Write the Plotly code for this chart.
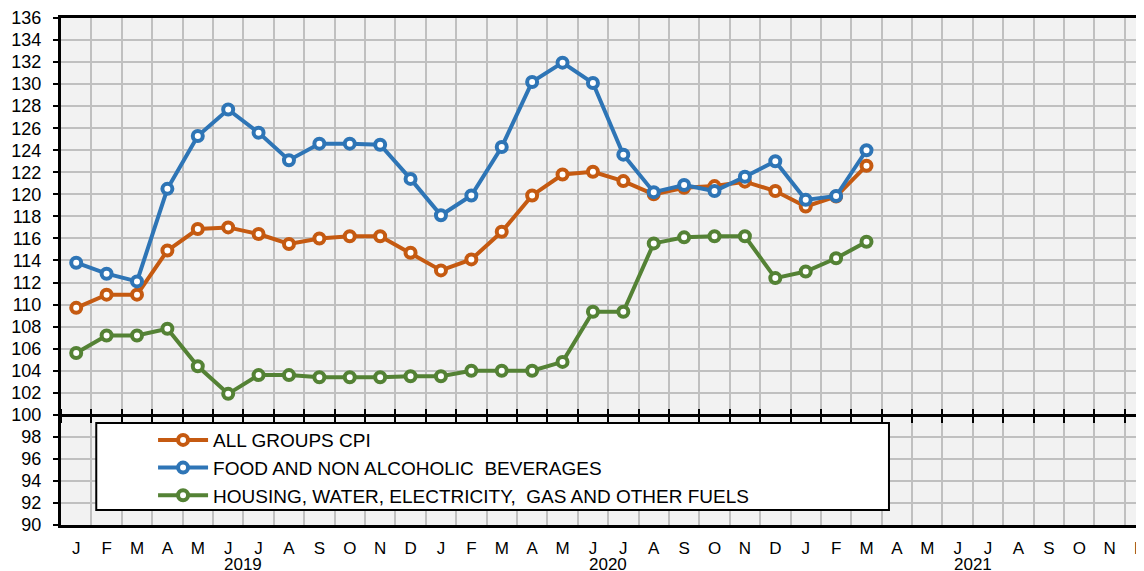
import plotly.graph_objects as go

months = ["J", "F", "M", "A", "M", "J", "J", "A", "S", "O", "N", "D"] * 3
years = ["2019", "2020", "2021"]
n_data = 27

all_groups = [109.7, 110.9, 110.9, 114.9, 116.85, 117.0, 116.4, 115.5, 116.0, 116.2, 116.2, 114.7,
              113.1, 114.1, 116.6, 119.9, 121.8, 122.05, 121.2, 120.0, 120.6, 120.75, 121.15, 120.3,
              118.9, 119.8, 122.6]
food = [113.8, 112.8, 112.1, 120.5, 125.3, 127.7, 125.6, 123.1, 124.6, 124.6, 124.5, 121.4,
        118.1, 119.9, 124.3, 130.2, 131.95, 130.1, 123.6, 120.2, 120.85, 120.3, 121.6, 123.0,
        119.5, 119.85, 124.0]
housing = [105.6, 107.2, 107.2, 107.8, 104.4, 101.9, 103.6, 103.6, 103.4, 103.4, 103.4, 103.5,
           103.5, 104.0, 104.0, 104.0, 104.8, 109.35, 109.35, 115.55, 116.1, 116.2, 116.2, 112.4,
           113.0, 114.2, 115.7]

series = [
    ("ALL GROUPS CPI", all_groups, "#c55a11"),
    ("FOOD AND NON ALCOHOLIC  BEVERAGES", food, "#2e75b6"),
    ("HOUSING, WATER, ELECTRICITY,  GAS AND OTHER FUELS", housing, "#548235"),
]

FONT = "Liberation Sans, Arial, sans-serif"
x = list(range(n_data))

fig = go.Figure()
for i, (name, vals, col) in enumerate(series):
    fig.add_trace(go.Scatter(
        x=x, y=vals, name=name, mode="lines+markers", legendgroup=str(i),
        line=dict(color=col, width=4),
        marker=dict(symbol="circle", size=10, color="white", line=dict(color=col, width=4)),
    ))

xr = [-0.5, 35.13]
# page body has an 8px default margin, so the figure is sized to fill the remaining window
fig.update_layout(
    width=1136, height=563,
    margin=dict(l=53, r=0, t=10, b=46, autoexpand=False),
    paper_bgcolor="white", plot_bgcolor="#f2f2f2",
    font=dict(family=FONT, size=18, color="black"),
    showlegend=True,
    legend=dict(x=0.085, y=0.205, xanchor="left", yanchor="top",
                bgcolor="rgba(0,0,0,0)", font=dict(family=FONT, size=19, color="black"),
                itemwidth=50, tracegroupgap=0, traceorder="grouped"),
    xaxis=dict(range=xr, tickmode="array", tickvals=list(range(36)), ticktext=months,
               tickfont=dict(family=FONT, size=17, color="black"), ticklabeloverflow="allow",
               showgrid=False, ticks="", showline=True, linecolor="black", linewidth=3,
               mirror=True, zeroline=False, ticklabelstandoff=6, automargin=False,
               minor=dict(tick0=0.5, dtick=1, showgrid=True, gridcolor="#c0c0c0", gridwidth=2, ticks="")),
    xaxis2=dict(range=xr, overlaying="x", anchor="free", position=(100 - 90) / 46, side="bottom",
                tickmode="linear", tick0=0.5, dtick=1, ticks="outside", ticklen=6, tickwidth=2,
                tickcolor="black", showticklabels=False, showgrid=False, showline=True,
                linecolor="black", linewidth=3, zeroline=False, automargin=False),
    xaxis3=dict(range=xr, overlaying="x", anchor="free", position=(100 - 90) / 46, side="top",
                tickmode="linear", tick0=0.5, dtick=1, ticks="outside", ticklen=6, tickwidth=2,
                tickcolor="black", showticklabels=False, showgrid=False, showline=False,
                zeroline=False, automargin=False),
    yaxis=dict(range=[90, 136], tickmode="linear", tick0=90, dtick=2, showgrid=True,
               gridcolor="#c0c0c0", gridwidth=2, ticks="outside", ticklen=5, tickwidth=2,
               tickcolor="black", showline=True, linecolor="black", linewidth=3,
               zeroline=False, ticklabelstandoff=8, automargin=False),
)

# invisible traces to activate the overlay axes
fig.add_trace(go.Scatter(x=[None], y=[None], xaxis="x2", showlegend=False, hoverinfo="skip"))
fig.add_trace(go.Scatter(x=[None], y=[None], xaxis="x3", showlegend=False, hoverinfo="skip"))

# legend box
fig.add_shape(type="rect", xref="x", yref="y", x0=0.66, x1=26.74, y0=91.35, y1=99.25,
              fillcolor="white", line=dict(color="black", width=2), layer="above")

for k, yr in enumerate(years):
    fig.add_annotation(x=5.5 + 12 * k, y=-0.078, xref="x", yref="paper", text=yr,
                       showarrow=False, yanchor="middle", font=dict(family=FONT, size=17, color="black"))

fig.write_html("out.html")
